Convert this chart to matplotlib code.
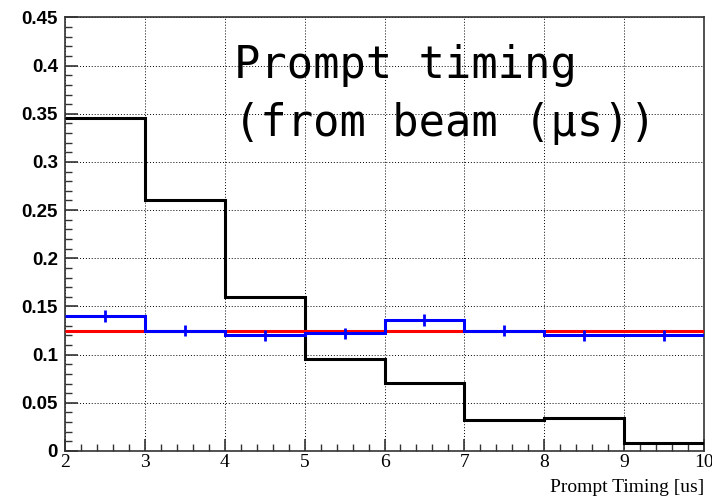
import matplotlib.pyplot as plt
from matplotlib.ticker import MultipleLocator

# bin edges and contents
bin_edges = [2, 3, 4, 5, 6, 7, 8, 9, 10]
black_vals = [0.346, 0.261, 0.160, 0.095, 0.071, 0.032, 0.034, 0.008]
blue_vals = [0.140, 0.125, 0.120, 0.122, 0.136, 0.125, 0.120, 0.120]
blue_errs = [0.006, 0.006, 0.006, 0.006, 0.006, 0.006, 0.006, 0.006]
red_vals = [0.125, 0.125, 0.125, 0.125, 0.125, 0.125, 0.125, 0.125]

centres = [(a + b) / 2 for a, b in zip(bin_edges[:-1], bin_edges[1:])]

fig = plt.figure(figsize=(7.12, 4.98), dpi=100)
ax = fig.add_axes([0.0913, 0.0944, 0.8975, 0.8706])

ax.stairs(black_vals, bin_edges, baseline=None, color='black', linewidth=2.2, zorder=3)
ax.stairs(red_vals, bin_edges, baseline=None, color='red', linewidth=2.2, zorder=4)
ax.stairs(blue_vals, bin_edges, baseline=None, color='blue', linewidth=2.2, zorder=5)
ax.errorbar(centres, blue_vals, yerr=blue_errs, fmt='none', ecolor='blue',
            elinewidth=2.0, capsize=0, zorder=5)

ax.set_xlim(2, 10)
ax.set_ylim(0, 0.45)
ax.xaxis.set_major_locator(MultipleLocator(1))
ax.xaxis.set_minor_locator(MultipleLocator(0.2))
ax.yaxis.set_minor_locator(MultipleLocator(0.01))
ax.set_yticks([0, 0.05, 0.1, 0.15, 0.2, 0.25, 0.3, 0.35, 0.4, 0.45])
ax.set_yticklabels(['0', '0.05', '0.1', '0.15', '0.2', '0.25', '0.3', '0.35', '0.4', '0.45'])

ax.tick_params(which='major', direction='in', length=9, width=1.2, color='#333333')
ax.tick_params(which='minor', direction='in', length=5, width=1.0, color='#333333')
ax.tick_params(axis='y', which='major', pad=5)
ax.tick_params(axis='x', which='major', pad=2)
for lab in ax.get_yticklabels():
    lab.set_fontfamily('Liberation Sans')
    lab.set_fontweight('bold')
    lab.set_fontsize(13.5)
for lab in ax.get_xticklabels():
    lab.set_fontfamily('Liberation Serif')
    lab.set_fontsize(14)

ax.grid(True, which='major', linestyle=(0, (1, 2)), color='black', linewidth=0.7)
for s in ax.spines.values():
    s.set_color('#333333')
    s.set_linewidth(1.2)

ax.set_xlabel('Prompt Timing [us]', loc='right', fontfamily='Liberation Serif',
              fontsize=14, labelpad=6)

fig.text(0.328, 0.8434, 'Prompt timing', fontfamily='DejaVu Sans Mono',
         fontsize=31.5, va='baseline', ha='left')
fig.text(0.328, 0.726, '(from beam (μs))', fontfamily='DejaVu Sans Mono',
         fontsize=31.5, va='baseline', ha='left')

fig.savefig('out.png', dpi=100)
